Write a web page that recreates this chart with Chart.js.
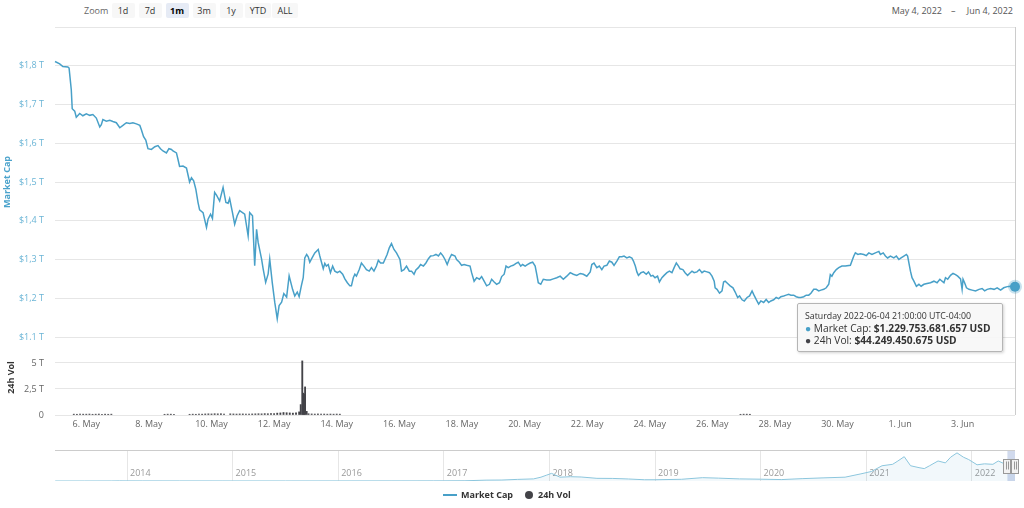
<!DOCTYPE html>
<html>
<head>
<meta charset="utf-8">
<script src="https://cdn.jsdelivr.net/npm/chart.js@4.4.1/dist/chart.umd.min.js"></script>
<style>
html,body{margin:0;padding:0;background:#fff;}
body{width:1024px;height:508px;position:relative;overflow:hidden;font-family:"Open Sans",sans-serif;}
.wrap{position:absolute;left:0;width:1024px;}
#wA{top:0;height:340px;}
#wB{top:330px;height:110px;}
#wC{top:440px;height:45px;}
#zoomLbl{position:absolute;top:3px;left:84px;height:15px;line-height:15px;font-size:9px;color:#666;}
.btn{position:absolute;top:3px;height:15px;line-height:15px;text-align:center;background:#f7f7f7;border-radius:2px;font-size:9px;color:#333;}
.btn.sel{background:#e6ebf5;font-weight:bold;color:#000;}
.rng{position:absolute;top:3px;height:15px;line-height:15px;font-size:9px;color:#555;white-space:nowrap;}
#tt{position:absolute;z-index:5;width:206px;height:49px;background:rgba(247,247,247,0.9);border:1px solid #b5b5b5;border-radius:2px;box-shadow:1px 1px 3px rgba(0,0,0,0.18);box-sizing:border-box;padding:7px 0 0 7px;color:#333;white-space:nowrap;}
#tt .h{font-size:8.8px;line-height:11px;}
#tt .r{font-size:10.2px;line-height:12px;}
#legend{position:absolute;top:488px;left:0;width:1024px;height:14px;font-size:9px;font-weight:bold;color:#333;}
#legend .sym{position:absolute;}
#legend .txt{position:absolute;top:0;line-height:14px;}
</style>
</head>
<body>
<div id="zoomLbl">Zoom</div>
<div id="btns"></div>
<div class="rng" id="rFrom" style="right:82px;"></div>
<div class="rng" style="left:951px;">–</div>
<div class="rng" id="rTo" style="right:11px;"></div>
<div class="wrap" id="wA"><canvas id="cA"></canvas></div>
<div class="wrap" id="wB"><canvas id="cB"></canvas></div>
<div class="wrap" id="wC"><canvas id="cC"></canvas></div>
<div id="tt"></div>
<div id="legend">
  <div class="sym" style="left:443px;top:6px;width:14px;height:2px;background:#48a0c8;"></div>
  <div class="txt" style="left:461px;">Market Cap</div>
  <div class="sym" style="left:525px;top:3px;width:8px;height:8px;border-radius:50%;background:#434348;"></div>
  <div class="txt" style="left:538px;">24h Vol</div>
</div>
<script>
// ---- DATA (day offset from 5 May 2022 00:00, value in trillions USD) ----
const marketCapPoints = [
[0.00,1.811],[0.15,1.805],[0.25,1.798],[0.41,1.797],[0.45,1.794],[0.52,1.738],[0.55,1.689],[0.63,1.683],[0.68,1.667],[0.79,1.677],[0.89,1.671],[1.00,1.676],[1.11,1.672],[1.21,1.674],[1.32,1.665],[1.43,1.642],[1.48,1.648],[1.53,1.661],[1.64,1.657],[1.75,1.659],[1.85,1.656],[1.96,1.653],[2.07,1.640],[2.17,1.646],[2.28,1.653],[2.39,1.651],[2.49,1.653],[2.60,1.650],[2.71,1.646],[2.76,1.635],[2.83,1.617],[2.90,1.608],[2.97,1.586],[3.08,1.584],[3.19,1.591],[3.29,1.594],[3.37,1.586],[3.45,1.580],[3.56,1.575],[3.64,1.586],[3.72,1.584],[3.77,1.580],[3.88,1.575],[3.93,1.558],[3.98,1.540],[4.09,1.541],[4.20,1.536],[4.30,1.500],[4.36,1.511],[4.43,1.503],[4.50,1.481],[4.57,1.447],[4.62,1.428],[4.73,1.421],[4.84,1.383],[4.89,1.404],[4.97,1.417],[5.03,1.406],[5.10,1.473],[5.16,1.466],[5.26,1.451],[5.37,1.486],[5.46,1.447],[5.53,1.445],[5.58,1.457],[5.67,1.421],[5.74,1.391],[5.82,1.413],[5.90,1.426],[5.99,1.421],[6.06,1.417],[6.17,1.361],[6.22,1.421],[6.31,1.413],[6.38,1.284],[6.44,1.378],[6.49,1.344],[6.60,1.301],[6.65,1.276],[6.73,1.241],[6.81,1.263],[6.86,1.301],[6.94,1.241],[7.02,1.190],[7.10,1.147],[7.16,1.181],[7.24,1.190],[7.31,1.212],[7.40,1.203],[7.48,1.258],
[7.59,1.223],[7.66,1.206],[7.74,1.216],[7.80,1.204],[7.87,1.232],[7.93,1.253],[7.98,1.304],[8.04,1.313],[8.09,1.307],[8.14,1.293],[8.20,1.302],[8.30,1.317],[8.41,1.326],[8.46,1.309],[8.57,1.276],[8.62,1.290],[8.67,1.283],[8.73,1.287],[8.80,1.266],[8.87,1.283],[8.94,1.270],[9.02,1.266],[9.10,1.270],[9.19,1.262],[9.26,1.250],[9.34,1.240],[9.42,1.232],[9.47,1.232],[9.53,1.253],[9.58,1.262],[9.63,1.257],[9.72,1.274],[9.79,1.291],[9.87,1.283],[9.95,1.274],[10.04,1.270],[10.11,1.279],[10.19,1.270],[10.27,1.283],[10.33,1.298],[10.40,1.291],[10.49,1.291],[10.54,1.300],[10.61,1.313],[10.68,1.330],[10.75,1.341],[10.83,1.326],[10.91,1.317],[11.02,1.300],[11.07,1.270],[11.15,1.274],[11.23,1.283],[11.32,1.270],[11.39,1.270],[11.47,1.262],[11.53,1.273],[11.61,1.279],[11.68,1.287],[11.77,1.283],[11.85,1.291],[11.93,1.302],[12.00,1.309],[12.09,1.310],[12.17,1.313],[12.25,1.309],[12.32,1.317],[12.39,1.310],[12.46,1.300],[12.53,1.287],[12.60,1.302],[12.67,1.313],[12.78,1.309],[12.83,1.300],[12.92,1.293],[12.99,1.285],[13.07,1.287],[13.15,1.285],[13.26,1.283],[13.31,1.266],[13.39,1.244],[13.47,1.253],[13.56,1.249],[13.63,1.256],[13.71,1.244],[13.79,1.232],[13.88,1.236],[13.95,1.249],[14.03,1.242],[14.11,1.236],[14.20,1.240],[14.27,1.256],[14.35,1.262],[14.41,1.283],[14.48,1.279],[14.56,1.283],[14.64,1.285],[14.73,1.290],[14.80,1.293],[14.88,1.283],[14.94,1.287],[15.02,1.283],[15.09,1.287],[15.18,1.291],[15.26,1.293],[15.34,1.283],[15.39,1.262],[15.44,1.240],[15.52,1.236],[15.60,1.249],[15.71,1.247],[15.82,1.247],[15.92,1.250],[16.03,1.253],[16.14,1.257],
[16.24,1.249],[16.35,1.257],[16.46,1.266],[16.56,1.262],[16.67,1.259],[16.78,1.264],[16.88,1.262],[16.99,1.257],[17.10,1.268],[17.15,1.287],[17.22,1.291],[17.31,1.279],[17.39,1.283],[17.47,1.274],[17.54,1.283],[17.63,1.285],[17.71,1.296],[17.79,1.293],[17.86,1.285],[17.95,1.296],[18.03,1.307],[18.11,1.307],[18.18,1.309],[18.27,1.304],[18.35,1.307],[18.43,1.304],[18.48,1.296],[18.54,1.283],[18.59,1.268],[18.64,1.259],[18.72,1.266],[18.80,1.268],[18.89,1.262],[18.96,1.268],[19.04,1.257],[19.10,1.259],[19.17,1.253],[19.25,1.257],[19.31,1.242],[19.39,1.253],[19.46,1.259],[19.55,1.266],[19.63,1.270],[19.71,1.266],[19.78,1.279],[19.85,1.291],[19.92,1.283],[19.97,1.276],[20.06,1.274],[20.13,1.266],[20.21,1.259],[20.27,1.264],[20.35,1.270],[20.42,1.266],[20.51,1.268],[20.59,1.274],[20.67,1.266],[20.74,1.270],[20.83,1.268],[20.91,1.266],[20.99,1.257],[21.06,1.244],[21.09,1.227],[21.15,1.223],[21.23,1.213],[21.31,1.219],[21.36,1.242],[21.41,1.244],[21.49,1.238],[21.57,1.232],[21.66,1.227],[21.73,1.216],[21.81,1.202],[21.87,1.206],[21.95,1.196],[22.02,1.193],[22.11,1.202],[22.19,1.206],[22.27,1.219],[22.32,1.210],[22.40,1.197],[22.48,1.185],[22.55,1.193],[22.64,1.189],[22.72,1.197],[22.80,1.189],[22.87,1.193],[22.96,1.196],[23.04,1.202],[23.12,1.199],[23.19,1.204],[23.28,1.206],[23.36,1.208],[23.44,1.210],[23.51,1.208],[23.60,1.208],[23.68,1.204],[23.76,1.202],[23.83,1.202],[23.92,1.204],[24.00,1.208],[24.08,1.208],[24.15,1.213],[24.24,1.223],[24.32,1.223],[24.40,1.219],[24.47,1.221],[24.56,1.223],[24.64,1.227],[24.72,1.236],
[24.77,1.261],[24.82,1.257],[24.88,1.266],[24.96,1.274],[25.04,1.279],[25.14,1.283],[25.25,1.283],[25.41,1.285],[25.52,1.309],[25.57,1.317],[25.65,1.313],[25.73,1.315],[25.84,1.313],[25.92,1.310],[26.00,1.317],[26.10,1.313],[26.21,1.317],[26.32,1.321],[26.37,1.313],[26.46,1.317],[26.53,1.309],[26.60,1.304],[26.69,1.309],[26.80,1.304],[26.88,1.309],[26.96,1.300],[27.03,1.304],[27.12,1.309],[27.20,1.313],[27.24,1.309],[27.28,1.291],[27.33,1.270],[27.38,1.253],[27.44,1.244],[27.52,1.231],[27.60,1.236],[27.67,1.231],[27.76,1.236],[27.86,1.238],[27.97,1.240],[28.08,1.244],[28.18,1.240],[28.27,1.249],[28.34,1.244],[28.40,1.240],[28.45,1.253],[28.52,1.249],[28.61,1.259],[28.69,1.264],[28.77,1.261],[28.84,1.257],[28.93,1.250],[28.98,1.223],[29.01,1.249],[29.06,1.240],[29.12,1.227],[29.20,1.223],[29.30,1.221],[29.41,1.219],[29.52,1.223],[29.62,1.225],[29.70,1.219],[29.78,1.223],[29.89,1.225],[30.00,1.223],[30.10,1.227],[30.21,1.221],[30.31,1.227],[30.42,1.230],[30.53,1.231],[30.67,1.2298]
];
const volumePoints = [
[0.60,0.08],[0.70,0.07],[0.80,0.09],[0.90,0.08],[1.00,0.08],[1.10,0.09],[1.20,0.07],[1.30,0.08],[1.40,0.09],[1.50,0.07],[1.60,0.08],[1.70,0.07],[1.80,0.08],
[3.50,0.07],[3.60,0.08],[3.70,0.08],[3.80,0.07],
[4.30,0.07],[4.40,0.08],[4.50,0.07],[4.60,0.08],[4.70,0.08],[4.80,0.10],[4.90,0.11],[5.00,0.10],[5.10,0.12],[5.20,0.11],[5.30,0.12],[5.40,0.10],[5.60,0.11],[5.70,0.10],[5.80,0.09],[5.90,0.10],[6.00,0.10],[6.10,0.09],[6.20,0.10],[6.30,0.10],[6.40,0.11],[6.50,0.12],[6.60,0.11],[6.70,0.13],[6.80,0.12],[6.90,0.14],[7.00,0.13],[7.10,0.18],[7.20,0.20],[7.30,0.24],[7.40,0.22],[7.50,0.20],[7.60,0.18],[7.70,0.21],[7.80,0.30],[7.85,1.00],[7.90,5.20],[7.93,2.10],[7.96,2.00],[7.99,2.70],[8.04,0.35],[8.10,0.12],[8.20,0.10],[8.30,0.09],[8.40,0.10],[8.50,0.08],[8.60,0.09],[8.70,0.08],[8.80,0.09],[8.90,0.08],[9.00,0.09],[9.10,0.08],
[21.90,0.07],[22.00,0.08],[22.10,0.08],[22.20,0.07]
];
// navigator: [year fraction, trillions USD]
const navPoints = [
[2013.32,0.0015],[2013.6,0.0012],[2013.85,0.004],[2013.93,0.014],[2014.0,0.010],[2014.15,0.009],[2014.5,0.008],[2014.9,0.005],[2015.0,0.0045],[2015.5,0.004],[2016.0,0.007],[2016.5,0.011],[2016.9,0.014],[2017.0,0.018],[2017.2,0.025],[2017.4,0.09],[2017.55,0.10],[2017.7,0.17],[2017.85,0.22],[2017.92,0.40],[2017.97,0.60],[2018.02,0.80],[2018.1,0.40],[2018.2,0.45],[2018.3,0.42],[2018.45,0.28],[2018.6,0.27],[2018.75,0.21],[2018.9,0.13],[2019.0,0.13],[2019.25,0.18],[2019.45,0.35],[2019.6,0.30],[2019.8,0.22],[2020.0,0.19],[2020.2,0.15],[2020.4,0.25],[2020.6,0.33],[2020.8,0.40],[2020.95,0.75],[2021.05,1.00],[2021.15,1.6],[2021.25,1.75],[2021.3,2.1],[2021.36,2.55],[2021.42,1.6],[2021.5,1.4],[2021.55,1.3],[2021.6,1.6],[2021.68,2.1],[2021.75,1.9],[2021.8,2.5],[2021.86,2.95],[2021.92,2.5],[2021.97,2.25],[2022.05,1.7],[2022.12,1.8],[2022.2,1.75],[2022.25,2.1],[2022.3,1.85],[2022.34,1.75],[2022.38,1.3],[2022.41,1.23]
];
const dayTicks = [1,3,5,7,9,11,13,15,17,19,21,23,25,27,29];
const dayTickLabels = ['6. May','8. May','10. May','12. May','14. May','16. May','18. May','20. May','22. May','24. May','26. May','28. May','30. May','1. Jun','3. Jun'];
const capTicks = [1.1,1.2,1.3,1.4,1.5,1.6,1.7,1.8,1.9];
const volTicks = [0,2.5,5];
const volTickLabels = ['0','2,5 T','5 T'];
const navYearTicks = [2014,2015,2016,2017,2018,2019,2020,2021,2022];
const navRange = [2022.337,2022.42];
const zoomButtons = ['1d','7d','1m','3m','1y','YTD','ALL'];
const rangeLabels = ['May 4, 2022','Jun 4, 2022'];
const hoverInfo = {date:'Saturday 2022-06-04 21:00:00 UTC-04:00', marketCap:1229753681657, volume:44249450675};

// ---- UI ----
const CAP = '#48a0c8', VOL = '#434348', GRID = '#e6e6e6';
const btnCenters = [123,150,177,204,231,258,285];
const btnsEl = document.getElementById('btns');
zoomButtons.forEach((b,i)=>{
  const d = document.createElement('div');
  d.className = 'btn' + (b==='1m'?' sel':'');
  const w = b.length>2 ? 26 : 23;
  d.style.width = w+'px'; d.style.left = (btnCenters[i]-w/2)+'px';
  d.textContent = b; btnsEl.appendChild(d);
});
document.getElementById('rFrom').textContent = rangeLabels[0];
document.getElementById('rTo').textContent = rangeLabels[1];

Chart.defaults.font.family = '"Open Sans", sans-serif';
Chart.defaults.font.size = 9;
Chart.defaults.animation = false;
Chart.defaults.events = [];
Chart.defaults.layout.autoPadding = false;
Chart.defaults.plugins.legend.display = false;
Chart.defaults.plugins.tooltip.enabled = false;

const lastPt = marketCapPoints[marketCapPoints.length-1];
const xMin = 0, xMax = lastPt[0];
const fitY = s => { s.width = 55; s.paddingTop = 0; s.paddingBottom = 0; };

const crosshair = {
  id:'crosshair',
  beforeDatasetsDraw(chart, args, opts){
    const x = Math.round(chart.scales.x.getPixelForValue(lastPt[0])) + 0.5;
    const c = chart.ctx; c.save();
    c.strokeStyle = '#cccccc'; c.lineWidth = 1;
    c.beginPath(); c.moveTo(x, opts.top === 'canvas' ? 0 : chart.chartArea.top);
    c.lineTo(x, opts.bottom === 'canvas' ? chart.height : chart.chartArea.bottom); c.stroke();
    c.restore();
  }
};

const chartA = new Chart(document.getElementById('cA'), {
  type:'line',
  data:{datasets:[{
    label:'Market Cap',
    data: marketCapPoints.map(p=>({x:p[0], y:p[1]})),
    borderColor: CAP, borderWidth:1.5, tension:0, fill:false,
    pointRadius: ctx => ctx.dataIndex === marketCapPoints.length-1 ? 5 : 0,
    pointBackgroundColor: CAP,
    pointBorderColor: 'rgba(72,160,200,0.3)',
    pointBorderWidth: 4,
    clip: false
  }]},
  options:{
    responsive:true, maintainAspectRatio:false,
    layout:{autoPadding:false, padding:{top:27,right:9,left:0,bottom:3}},
    plugins:{crosshair:{top:'area', bottom:'canvas'}},
    scales:{
      x:{type:'linear', min:xMin, max:xMax, display:false,
         afterBuildTicks: s => { s.ticks = dayTicks.map(v=>({value:v})); }},
      y:{min:1.1, max:1.9, bounds:'data',
         afterBuildTicks: s => { s.ticks = capTicks.map(v=>({value:v})); },
         afterFit: fitY,
         grid:{color:GRID, drawTicks:false},
         border:{display:false},
         ticks:{padding:11, color:'#6bb5d6',
           callback:(v,i)=> capTicks[i] >= 1.85 ? '' : '$' + capTicks[i].toFixed(1).replace('.',',') + ' T'},
         title:{display:true, text:'Market Cap', color:'#4ba3cc', font:{weight:'bold', size:9}, padding:{top:2,bottom:0}}
      }
    }
  },
  plugins:[crosshair]
});

const chartB = new Chart(document.getElementById('cB'), {
  type:'bar',
  data:{datasets:[{
    label:'24h Vol',
    data: volumePoints.map(p=>({x:p[0], y:p[1]})),
    backgroundColor: VOL, borderWidth:0, barThickness:1.2
  }]},
  options:{
    responsive:true, maintainAspectRatio:false,
    layout:{autoPadding:false, padding:{top:10,right:9,left:0,bottom:0}},
    plugins:{crosshair:{top:'canvas', bottom:'area'}},
    scales:{
      x:{type:'linear', min:xMin, max:xMax, offset:false, bounds:'data',
         afterBuildTicks: s => { s.ticks = dayTicks.map(v=>({value:v})); },
         afterFit: s => { s.height = 25; },
         grid:{display:false, drawTicks:false, offset:false}, border:{display:false},
         ticks:{autoSkip:false, maxRotation:0, padding:4, color:'#666',
           callback:(v,i)=> dayTickLabels[i]}},
      y:{min:0, max:7.21, bounds:'data',
         afterBuildTicks: s => { s.ticks = volTicks.map(v=>({value:v})); },
         afterFit: fitY,
         grid:{color:GRID, drawTicks:false}, border:{display:false},
         ticks:{padding:11, color:'#666', callback:(v,i)=> volTickLabels[i]},
         title:{display:true, text:'24h Vol', color:'#333', font:{weight:'bold', size:9}, padding:{top:6,bottom:0}}
      }
    }
  },
  plugins:[crosshair]
});

const navDecor = {
  id:'navDecor',
  afterDraw(chart){
    const c = chart.ctx, a = chart.chartArea, xs = chart.scales.x;
    c.save();
    const x1 = xs.getPixelForValue(navRange[0]), x2 = Math.min(xs.getPixelForValue(navRange[1]), a.right);
    c.fillStyle = 'rgba(102,133,194,0.3)';
    c.fillRect(x1, a.top, x2-x1, a.bottom-a.top);
    c.strokeStyle = '#cccccc'; c.lineWidth = 1;
    c.beginPath(); c.moveTo(a.left, a.top+0.5); c.lineTo(a.right, a.top+0.5); c.stroke();
    [x1, x2].forEach(hx=>{
      const hy = (a.top+a.bottom)/2;
      c.fillStyle = '#f2f2f2'; c.strokeStyle = '#999999';
      c.fillRect(Math.round(hx-4)+0.5, Math.round(hy-7)+0.5, 7, 14);
      c.strokeRect(Math.round(hx-4)+0.5, Math.round(hy-7)+0.5, 7, 14);
      c.beginPath();
      c.moveTo(Math.round(hx-1)+0.5, hy-4); c.lineTo(Math.round(hx-1)+0.5, hy+4);
      c.moveTo(Math.round(hx+1)+0.5, hy-4); c.lineTo(Math.round(hx+1)+0.5, hy+4);
      c.stroke();
    });
    c.restore();
  }
};

const chartC = new Chart(document.getElementById('cC'), {
  type:'line',
  data:{datasets:[{
    data: navPoints.map(p=>({x:p[0], y:p[1]})),
    borderColor:'#8cc6dd', borderWidth:1, tension:0, pointRadius:0,
    fill:'origin', backgroundColor:'rgba(72,160,200,0.07)'
  }]},
  options:{
    responsive:true, maintainAspectRatio:false,
    layout:{autoPadding:false, padding:{top:10,right:9,left:55,bottom:4}},
    scales:{
      x:{type:'linear', min:2013.318, max:2022.409, bounds:'data',
         afterBuildTicks: s => { s.ticks = navYearTicks.map(v=>({value:v})); },
         afterFit: s => { s.height = 0; s.paddingLeft = 0; s.paddingRight = 0; },
         grid:{color:GRID, drawTicks:false}, border:{display:false},
         ticks:{autoSkip:false, maxRotation:0, mirror:true, align:'start', labelOffset:3, padding:2, color:'#999',
           callback:(v,i)=> String(navYearTicks[i])}},
      y:{display:false, min:0, max:3.25}
    }
  },
  plugins:[navDecor]
});

// ---- Tooltip (positioned from the chart scales) ----
const fmt = n => '$' + String(n).replace(/\B(?=(\d{3})+(?!\d))/g,'.') + ' USD';
const tt = document.getElementById('tt');
tt.innerHTML =
  '<div class="h">' + hoverInfo.date + '</div>' +
  '<div class="r"><span style="color:'+CAP+'">\u25CF</span> Market Cap: <b>' + fmt(hoverInfo.marketCap) + '</b></div>' +
  '<div class="r"><span style="color:'+VOL+'">\u25CF</span> 24h Vol: <b>' + fmt(hoverInfo.volume) + '</b></div>';
const px = chartA.scales.x.getPixelForValue(lastPt[0]);
const py = chartA.scales.y.getPixelForValue(lastPt[1]);
tt.style.left = (px - 218) + 'px';
tt.style.top = (py + 16) + 'px';
</script>
</body>
</html>
